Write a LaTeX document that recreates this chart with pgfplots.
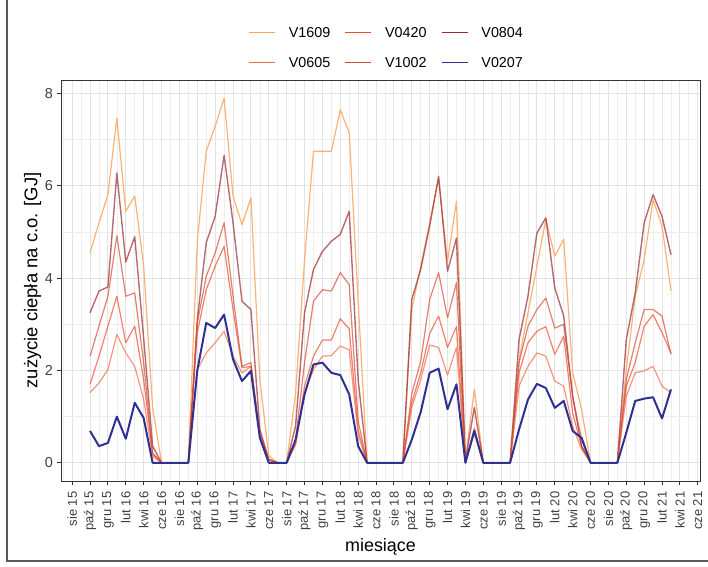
\documentclass[border=0pt]{standalone}
\usepackage{fontspec}
\setmainfont{Liberation Sans}
\usepackage{pgfplots}
\usepackage{pgfplotstable}
\pgfplotsset{compat=1.18}
\definecolor{c1609}{HTML}{FBA55C}
\definecolor{c0420}{HTML}{EE4A30}
\definecolor{c0804}{HTML}{9A2B35}
\definecolor{c0605}{HTML}{F26A48}
\definecolor{c1002}{HTML}{D64A34}
\definecolor{c0207}{HTML}{2E3192}
\definecolor{gridmaj}{HTML}{E3E3E3}
\definecolor{gridmin}{HTML}{EEEEEE}
\definecolor{frame}{HTML}{333333}
\definecolor{tickgray}{HTML}{3F3F3F}

\pgfplotstableread{
m v1609 v0420 v0804 v0605 v1002 v0207
2 4.55 1.70 3.25 1.52 2.31 0.69
3 5.20 2.31 3.72 1.73 2.96 0.36
4 5.81 2.96 3.81 2.02 3.61 0.43
5 7.47 3.61 6.28 2.78 4.92 1.00
6 5.45 2.60 4.35 2.38 3.61 0.52
7 5.78 2.96 4.90 2.09 3.68 1.30
8 4.26 1.80 2.70 1.37 2.17 0.97
9 1.20 0.20 0.36 0.14 0.20 0.00
10 0 0 0 0 0 0
11 0 0 0 0 0 0
12 0 0 0 0 0 0
13 0 0 0 0 0 0
14 4.80 2.82 3.10 2.02 3.03 2.00
15 6.75 3.75 4.77 2.38 4.04 3.03
16 7.29 4.26 5.34 2.60 4.55 2.92
17 7.90 4.69 6.66 2.85 5.20 3.21
18 5.78 3.32 5.20 2.31 3.61 2.24
19 5.16 2.06 3.50 1.95 2.09 1.77
20 5.74 2.09 3.32 2.09 2.17 1.99
21 1.80 0.65 0.72 0.55 0.58 0.54
22 0.15 0.07 0.07 0.05 0.07 0.00
23 0 0 0 0 0 0
24 0 0 0 0 0 0
25 1.50 0.40 0.80 0.40 0.50 0.50
26 4.40 1.66 3.25 1.52 2.17 1.48
27 6.75 2.31 4.19 2.02 3.50 2.13
28 6.75 2.66 4.58 2.31 3.75 2.17
29 6.75 2.66 4.80 2.32 3.72 1.95
30 7.65 3.12 4.95 2.53 4.12 1.90
31 7.15 2.90 5.45 2.45 3.86 1.48
32 3.50 0.70 1.80 0.60 0.90 0.36
33 0 0 0 0 0 0
34 0 0 0 0 0 0
35 0 0 0 0 0 0
36 0 0 0 0 0 0
37 0 0 0 0 0 0
38 3.32 1.30 3.54 1.20 1.50 0.50
39 4.26 1.95 4.19 1.80 2.20 1.10
40 5.20 2.80 5.13 2.55 3.54 1.95
41 6.14 3.18 6.21 2.50 4.12 2.04
42 4.37 2.50 4.15 1.90 3.14 1.16
43 5.67 2.95 4.87 2.50 3.90 1.70
44 0.05 0.00 0.05 0.00 0.00 0.00
45 1.60 0.70 1.20 0.65 0.75 0.69
46 0 0 0 0 0 0
47 0 0 0 0 0 0
48 0 0 0 0 0 0
49 0 0 0 0 0 0
50 2.24 1.95 2.67 1.66 2.17 0.72
51 3.25 2.60 3.61 2.09 2.96 1.37
52 4.26 2.85 4.98 2.38 3.32 1.71
53 5.27 2.95 5.31 2.31 3.57 1.62
54 4.48 2.35 3.79 1.77 2.92 1.19
55 4.84 2.74 3.18 1.66 3.00 1.34
56 1.95 1.08 1.44 0.79 1.44 0.69
57 1.16 0.35 0.36 0.29 0.50 0.54
58 0 0 0 0 0 0
59 0 0 0 0 0 0
60 0 0 0 0 0 0
61 0 0 0 0 0 0
62 2.02 1.66 2.67 1.44 1.80 0.65
63 3.61 2.17 3.68 1.95 2.60 1.34
64 4.40 2.96 5.20 1.99 3.32 1.39
65 5.70 3.21 5.81 2.09 3.32 1.42
66 5.13 2.82 5.34 1.66 3.18 0.96
67 3.72 2.38 4.51 1.52 2.35 1.59
}\data

\begin{document}
\begin{tikzpicture}
\useasboundingbox (0,0) rectangle (708bp,567bp);
\draw[color=black!65, line width=1.2bp] (7bp,567bp) -- (7bp,6bp) -- (708bp,6bp);
\begin{axis}[
  at={(61bp,86bp)}, anchor=south west,
  scale only axis, width=639bp, height=401bp,
  xmin=-1.25, xmax=70.25, ymin=-0.395, ymax=8.295,
  xtick={0,2,...,70},
  xticklabels={sie 15,paź 15,gru 15,lut 16,kwi 16,cze 16,sie 16,paź 16,gru 16,lut 17,kwi 17,cze 17,sie 17,paź 17,gru 17,lut 18,kwi 18,cze 18,sie 18,paź 18,gru 18,lut 19,kwi 19,cze 19,sie 19,paź 19,gru 19,lut 20,kwi 20,cze 20,sie 20,paź 20,gru 20,lut 21,kwi 21,cze 21},
  minor xtick={-1,1,...,69},
  ytick={0,2,4,6,8}, yticklabels={0,2,4,6,8},
  minor ytick={1,3,5,7},
  grid=both,
  major grid style={color=gridmaj, line width=1bp},
  minor grid style={color=gridmin, line width=0.7bp},
  axis line style={color=frame, line width=0.9bp},
  tick style={color=frame, line width=0.9bp},
  tick align=outside, major tick length=4.5bp, minor tick length=0pt,
  xtick pos=bottom, ytick pos=left,
  xticklabel style={rotate=90, anchor=east, inner xsep=6bp, font=\fontsize{13}{13}\selectfont, text=tickgray},
  yticklabel style={font=\fontsize{14.5}{14.5}\selectfont, text=tickgray},
  xlabel={miesiące}, ylabel={zużycie ciepła na c.o. [GJ]},
  xlabel style={at={(axis description cs:0.5,0)}, anchor=center, yshift=-66bp, font=\fontsize{18}{18}\selectfont},
  ylabel style={at={(axis description cs:-0.0446,0.5)}, anchor=center, font=\fontsize{18.5}{18.5}\selectfont},
  legend columns=3,
  legend cell align=left,
  legend style={at={(axis description cs:0.5,1)}, anchor=south, yshift=9bp, xshift=5bp,
    draw=none, fill=none, inner sep=0pt, row sep=17bp,
    font=\fontsize{14.4}{14.4}\selectfont,
    nodes={inner sep=0pt, text height=10bp, text depth=3bp},
    /tikz/every odd column/.append style={column sep=13bp},
    /tikz/every even column/.append style={column sep=14bp}},
  legend image code/.code={\draw[#1, opacity=1, line width=1.8bp] (0bp,1.7bp) -- (26bp,1.7bp);},
  line join=round,
]
\addplot[c1609, line width=1.2bp, opacity=0.85] table[x=m, y=v1609] {\data};
\addlegendentry{V1609}
\addplot[c0420, line width=1.2bp, opacity=0.7] table[x=m, y=v0420] {\data};
\addlegendentry{V0420}
\addplot[c0804, line width=1.4bp, opacity=0.7] table[x=m, y=v0804] {\data};
\addlegendentry{V0804}
\addplot[c0605, line width=1.2bp, opacity=0.7] table[x=m, y=v0605] {\data};
\addlegendentry{V0605}
\addplot[c1002, line width=1.2bp, opacity=0.7] table[x=m, y=v1002] {\data};
\addlegendentry{V1002}
\addplot[c0207, line width=2bp] table[x=m, y=v0207] {\data};
\addlegendentry{V0207}
\end{axis}
\end{tikzpicture}
\end{document}
